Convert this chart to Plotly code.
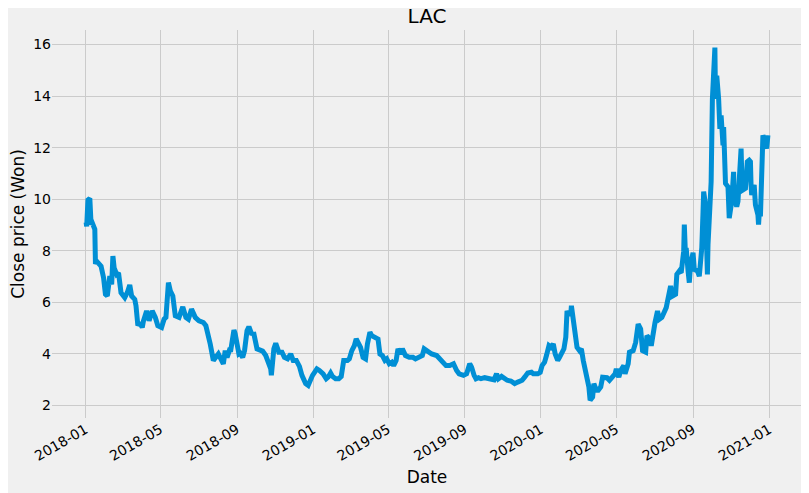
import pandas as pd
import plotly.graph_objects as go

# LAC close prices (approx.)
dates = [
    "2018-01-02", "2018-01-03", "2018-01-05", "2018-01-08", "2018-01-10", "2018-01-12", "2018-01-16",
    "2018-01-17", "2018-01-19", "2018-01-26", "2018-01-30", "2018-02-02", "2018-02-05", "2018-02-08",
    "2018-02-09", "2018-02-12", "2018-02-14", "2018-02-16", "2018-02-20", "2018-02-23", "2018-02-27",
    "2018-03-05", "2018-03-09", "2018-03-13", "2018-03-16", "2018-03-21", "2018-03-23", "2018-03-26",
    "2018-03-29", "2018-04-02", "2018-04-04", "2018-04-09", "2018-04-13", "2018-04-18", "2018-04-23",
    "2018-04-27", "2018-05-03", "2018-05-07", "2018-05-10", "2018-05-14", "2018-05-17", "2018-05-21",
    "2018-05-25", "2018-05-31", "2018-06-06", "2018-06-11", "2018-06-15", "2018-06-20", "2018-06-26",
    "2018-07-02", "2018-07-09", "2018-07-13", "2018-07-18", "2018-07-20", "2018-07-25", "2018-07-30",
    "2018-08-02", "2018-08-06", "2018-08-10", "2018-08-13", "2018-08-16", "2018-08-20", "2018-08-22",
    "2018-08-27", "2018-08-29", "2018-09-04", "2018-09-06", "2018-09-10", "2018-09-13", "2018-09-17",
    "2018-09-20", "2018-09-24", "2018-09-28", "2018-10-03", "2018-10-08", "2018-10-12", "2018-10-17",
    "2018-10-22", "2018-10-25", "2018-10-26", "2018-10-30", "2018-11-02", "2018-11-07", "2018-11-12",
    "2018-11-16", "2018-11-21", "2018-11-26", "2018-11-30", "2018-12-05", "2018-12-10", "2018-12-14",
    "2018-12-20", "2018-12-24", "2018-12-31",
    "2019-01-03", "2019-01-07", "2019-01-11", "2019-01-17", "2019-01-22", "2019-01-25", "2019-01-29",
    "2019-02-01", "2019-02-06", "2019-02-11", "2019-02-15", "2019-02-19", "2019-02-25", "2019-02-28",
    "2019-03-04", "2019-03-08", "2019-03-11", "2019-03-15", "2019-03-18", "2019-03-22", "2019-03-26",
    "2019-03-29", "2019-04-02", "2019-04-05", "2019-04-10", "2019-04-15", "2019-04-18", "2019-04-22",
    "2019-04-26", "2019-04-29", "2019-05-03", "2019-05-07", "2019-05-10", "2019-05-14", "2019-05-17",
    "2019-05-21", "2019-05-24", "2019-05-29", "2019-06-04", "2019-06-10", "2019-06-14", "2019-06-20",
    "2019-06-25", "2019-06-28", "2019-07-05", "2019-07-10", "2019-07-18", "2019-07-23", "2019-07-29",
    "2019-08-02", "2019-08-08", "2019-08-14", "2019-08-19", "2019-08-23", "2019-08-30", "2019-09-04",
    "2019-09-09", "2019-09-12", "2019-09-16", "2019-09-19", "2019-09-23", "2019-09-27", "2019-10-03",
    "2019-10-09", "2019-10-14", "2019-10-18", "2019-10-22", "2019-10-25", "2019-10-30", "2019-11-04",
    "2019-11-08", "2019-11-14", "2019-11-20", "2019-11-25", "2019-12-02", "2019-12-06", "2019-12-11",
    "2019-12-17", "2019-12-20", "2019-12-27", "2019-12-31",
    "2020-01-03", "2020-01-07", "2020-01-10", "2020-01-14", "2020-01-17", "2020-01-21", "2020-01-24",
    "2020-01-28", "2020-01-31", "2020-02-05", "2020-02-07", "2020-02-10", "2020-02-12", "2020-02-14",
    "2020-02-18", "2020-02-19", "2020-02-21", "2020-02-24", "2020-02-28", "2020-03-03", "2020-03-06",
    "2020-03-09", "2020-03-12", "2020-03-16", "2020-03-18", "2020-03-20", "2020-03-24", "2020-03-26",
    "2020-03-30", "2020-04-02", "2020-04-06", "2020-04-09", "2020-04-13", "2020-04-16", "2020-04-20",
    "2020-04-23", "2020-04-29", "2020-05-01", "2020-05-05", "2020-05-08", "2020-05-13", "2020-05-15",
    "2020-05-20", "2020-05-22", "2020-05-28", "2020-06-01", "2020-06-05", "2020-06-09", "2020-06-12",
    "2020-06-17", "2020-06-19", "2020-06-24", "2020-06-26", "2020-07-02", "2020-07-06", "2020-07-09",
    "2020-07-13", "2020-07-20", "2020-07-23", "2020-07-27", "2020-07-30", "2020-08-04", "2020-08-06",
    "2020-08-10", "2020-08-13", "2020-08-17", "2020-08-18", "2020-08-20", "2020-08-21", "2020-08-24",
    "2020-08-26", "2020-08-28", "2020-09-01", "2020-09-03", "2020-09-08", "2020-09-11", "2020-09-15",
    "2020-09-17", "2020-09-18", "2020-09-21", "2020-09-24", "2020-09-25", "2020-09-28", "2020-09-30",
    "2020-10-02", "2020-10-05", "2020-10-06", "2020-10-07", "2020-10-09", "2020-10-12", "2020-10-14",
    "2020-10-16", "2020-10-19", "2020-10-20", "2020-10-21", "2020-10-23", "2020-10-27", "2020-10-29",
    "2020-11-02", "2020-11-03", "2020-11-05", "2020-11-06", "2020-11-10", "2020-11-12", "2020-11-16",
    "2020-11-17", "2020-11-18", "2020-11-20", "2020-11-24", "2020-11-27", "2020-11-30", "2020-12-02",
    "2020-12-03", "2020-12-04", "2020-12-08", "2020-12-10", "2020-12-14", "2020-12-15", "2020-12-17",
    "2020-12-18", "2020-12-22", "2020-12-23", "2020-12-28", "2020-12-30",
]

close = [
    9.10, 8.94, 9.97, 10.03, 9.02, 9.07, 8.83,
    7.48, 7.59, 7.40, 6.95, 6.31, 6.24, 6.95,
    7.01, 6.69, 7.79, 7.33, 7.08, 7.14, 6.37,
    6.18, 6.37, 6.67, 6.24, 6.11, 5.86, 5.09,
    5.21, 5.02, 5.28, 5.66, 5.28, 5.66, 5.41,
    5.09, 5.02, 5.34, 5.41, 6.76, 6.44, 6.24,
    5.47, 5.41, 5.82, 5.41, 5.34, 5.73, 5.41,
    5.28, 5.21, 5.09, 4.64, 4.38, 3.74, 3.86,
    3.99, 3.80, 3.61, 4.12, 3.86, 4.15, 4.15,
    4.92, 4.77, 3.99, 4.02, 3.86, 4.12, 4.89,
    5.05, 4.79, 4.77, 4.19, 4.12, 4.10, 3.93,
    3.67, 3.41, 3.16, 4.19, 4.40, 4.06, 4.06,
    3.86, 3.80, 3.99, 3.74, 3.74, 3.51, 3.16,
    2.84, 2.77, 3.16,
    3.28, 3.41, 3.35, 3.22, 3.03, 3.09, 3.25,
    3.12, 3.03, 3.03, 3.12, 3.74, 3.74, 3.80,
    4.12, 4.31, 4.57, 4.38, 4.25, 3.86, 3.80,
    4.38, 4.83, 4.70, 4.64, 4.57, 3.99, 3.93,
    3.74, 3.80, 3.61, 3.67, 3.54, 3.74, 4.19,
    3.99, 4.19, 3.93, 3.86, 3.86, 3.80, 3.86,
    3.93, 4.19, 4.06, 3.99, 3.93, 3.80, 3.67,
    3.54, 3.54, 3.61, 3.35, 3.22, 3.16, 3.22,
    3.61, 3.48, 3.16, 3.03, 3.07, 3.03, 3.07,
    3.03, 3.03, 2.99, 3.22, 3.03, 3.12, 3.03,
    2.97, 2.94, 2.84, 2.90, 2.97, 3.09, 3.25,
    3.28, 3.22, 3.22, 3.28,
    3.54, 3.67, 3.93, 4.31, 4.25, 4.38, 3.99,
    3.74, 3.86, 4.12, 4.19, 4.64, 5.66, 5.54,
    5.54, 5.86, 5.41, 4.89, 4.25, 4.12, 4.19,
    3.74, 3.35, 3.09, 2.71, 2.19, 2.32, 2.84,
    2.58, 2.58, 2.71, 3.09, 3.09, 3.07, 2.97,
    3.07, 3.22, 3.41, 3.09, 3.35, 3.54, 3.22,
    3.61, 4.06, 4.12, 4.44, 5.15, 4.96, 4.12,
    4.06, 4.70, 4.57, 4.31, 5.21, 5.66, 5.34,
    5.41, 5.79, 6.18, 6.63, 6.24, 6.31, 7.08,
    7.21, 7.14, 7.98, 9.01, 7.72, 8.11, 7.21,
    6.76, 7.47, 7.92, 7.27, 7.21, 7.01, 8.11,
    9.52, 10.29, 9.78, 7.08, 8.24, 10.42, 10.68,
    13.89, 15.18, 15.88, 13.89, 14.79, 13.89, 12.73,
    13.25, 12.09, 12.80, 11.06, 10.61, 10.48, 9.26,
    9.91, 10.55, 11.06, 10.03, 9.71, 9.91, 11.32,
    11.96, 11.06, 10.36, 10.42, 11.45, 11.51, 11.45,
    10.55, 10.16, 10.55, 9.78, 9.39, 9.01, 9.78,
    9.33, 12.48, 12.35, 11.96, 12.48,
]

df = pd.DataFrame({"Date": pd.to_datetime(dates), "Close": close})

# matplotlib-like 5% margins around the data
span = df["Date"].max() - df["Date"].min()
x_range = [df["Date"].min() - span * 0.05, df["Date"].max() + span * 0.05]
lo, hi = df["Close"].min(), df["Close"].max()
y_range = [lo - (hi - lo) * 0.05, hi + (hi - lo) * 0.05]

fig = go.Figure()
fig.add_trace(go.Scatter(x=df["Date"], y=df["Close"], mode="lines",
                         line=dict(color="#008fd5", width=5)))

# page has ~8px body margin, so the figure is a bit smaller than the window
fig.update_layout(
    width=801, height=485,
    paper_bgcolor="#f0f0f0", plot_bgcolor="#f0f0f0",
    font=dict(family="DejaVu Sans", size=14, color="#000000"),
    title=dict(text="LAC", x=0.5, xref="paper", y=0.983, yref="container",
               yanchor="middle", font=dict(size=20)),
    margin=dict(l=42, r=7, t=22, b=75),
    showlegend=False,
)
fig.update_xaxes(
    range=x_range, tick0="2018-01-01", dtick="M4", tickformat="%Y-%m",
    tickangle=-30, showgrid=True, gridcolor="#cbcbcb", gridwidth=1,
    zeroline=False, showline=False, ticks="",
    title=dict(text="Date", font=dict(size=17), standoff=8),
)
fig.update_yaxes(
    range=y_range, dtick=2, tick0=0, showgrid=True, gridcolor="#cbcbcb", gridwidth=1,
    zeroline=False, showline=False, ticks="",
    title=dict(text="Close price (Won)", font=dict(size=17), standoff=6),
)

fig.write_html("out.html")
